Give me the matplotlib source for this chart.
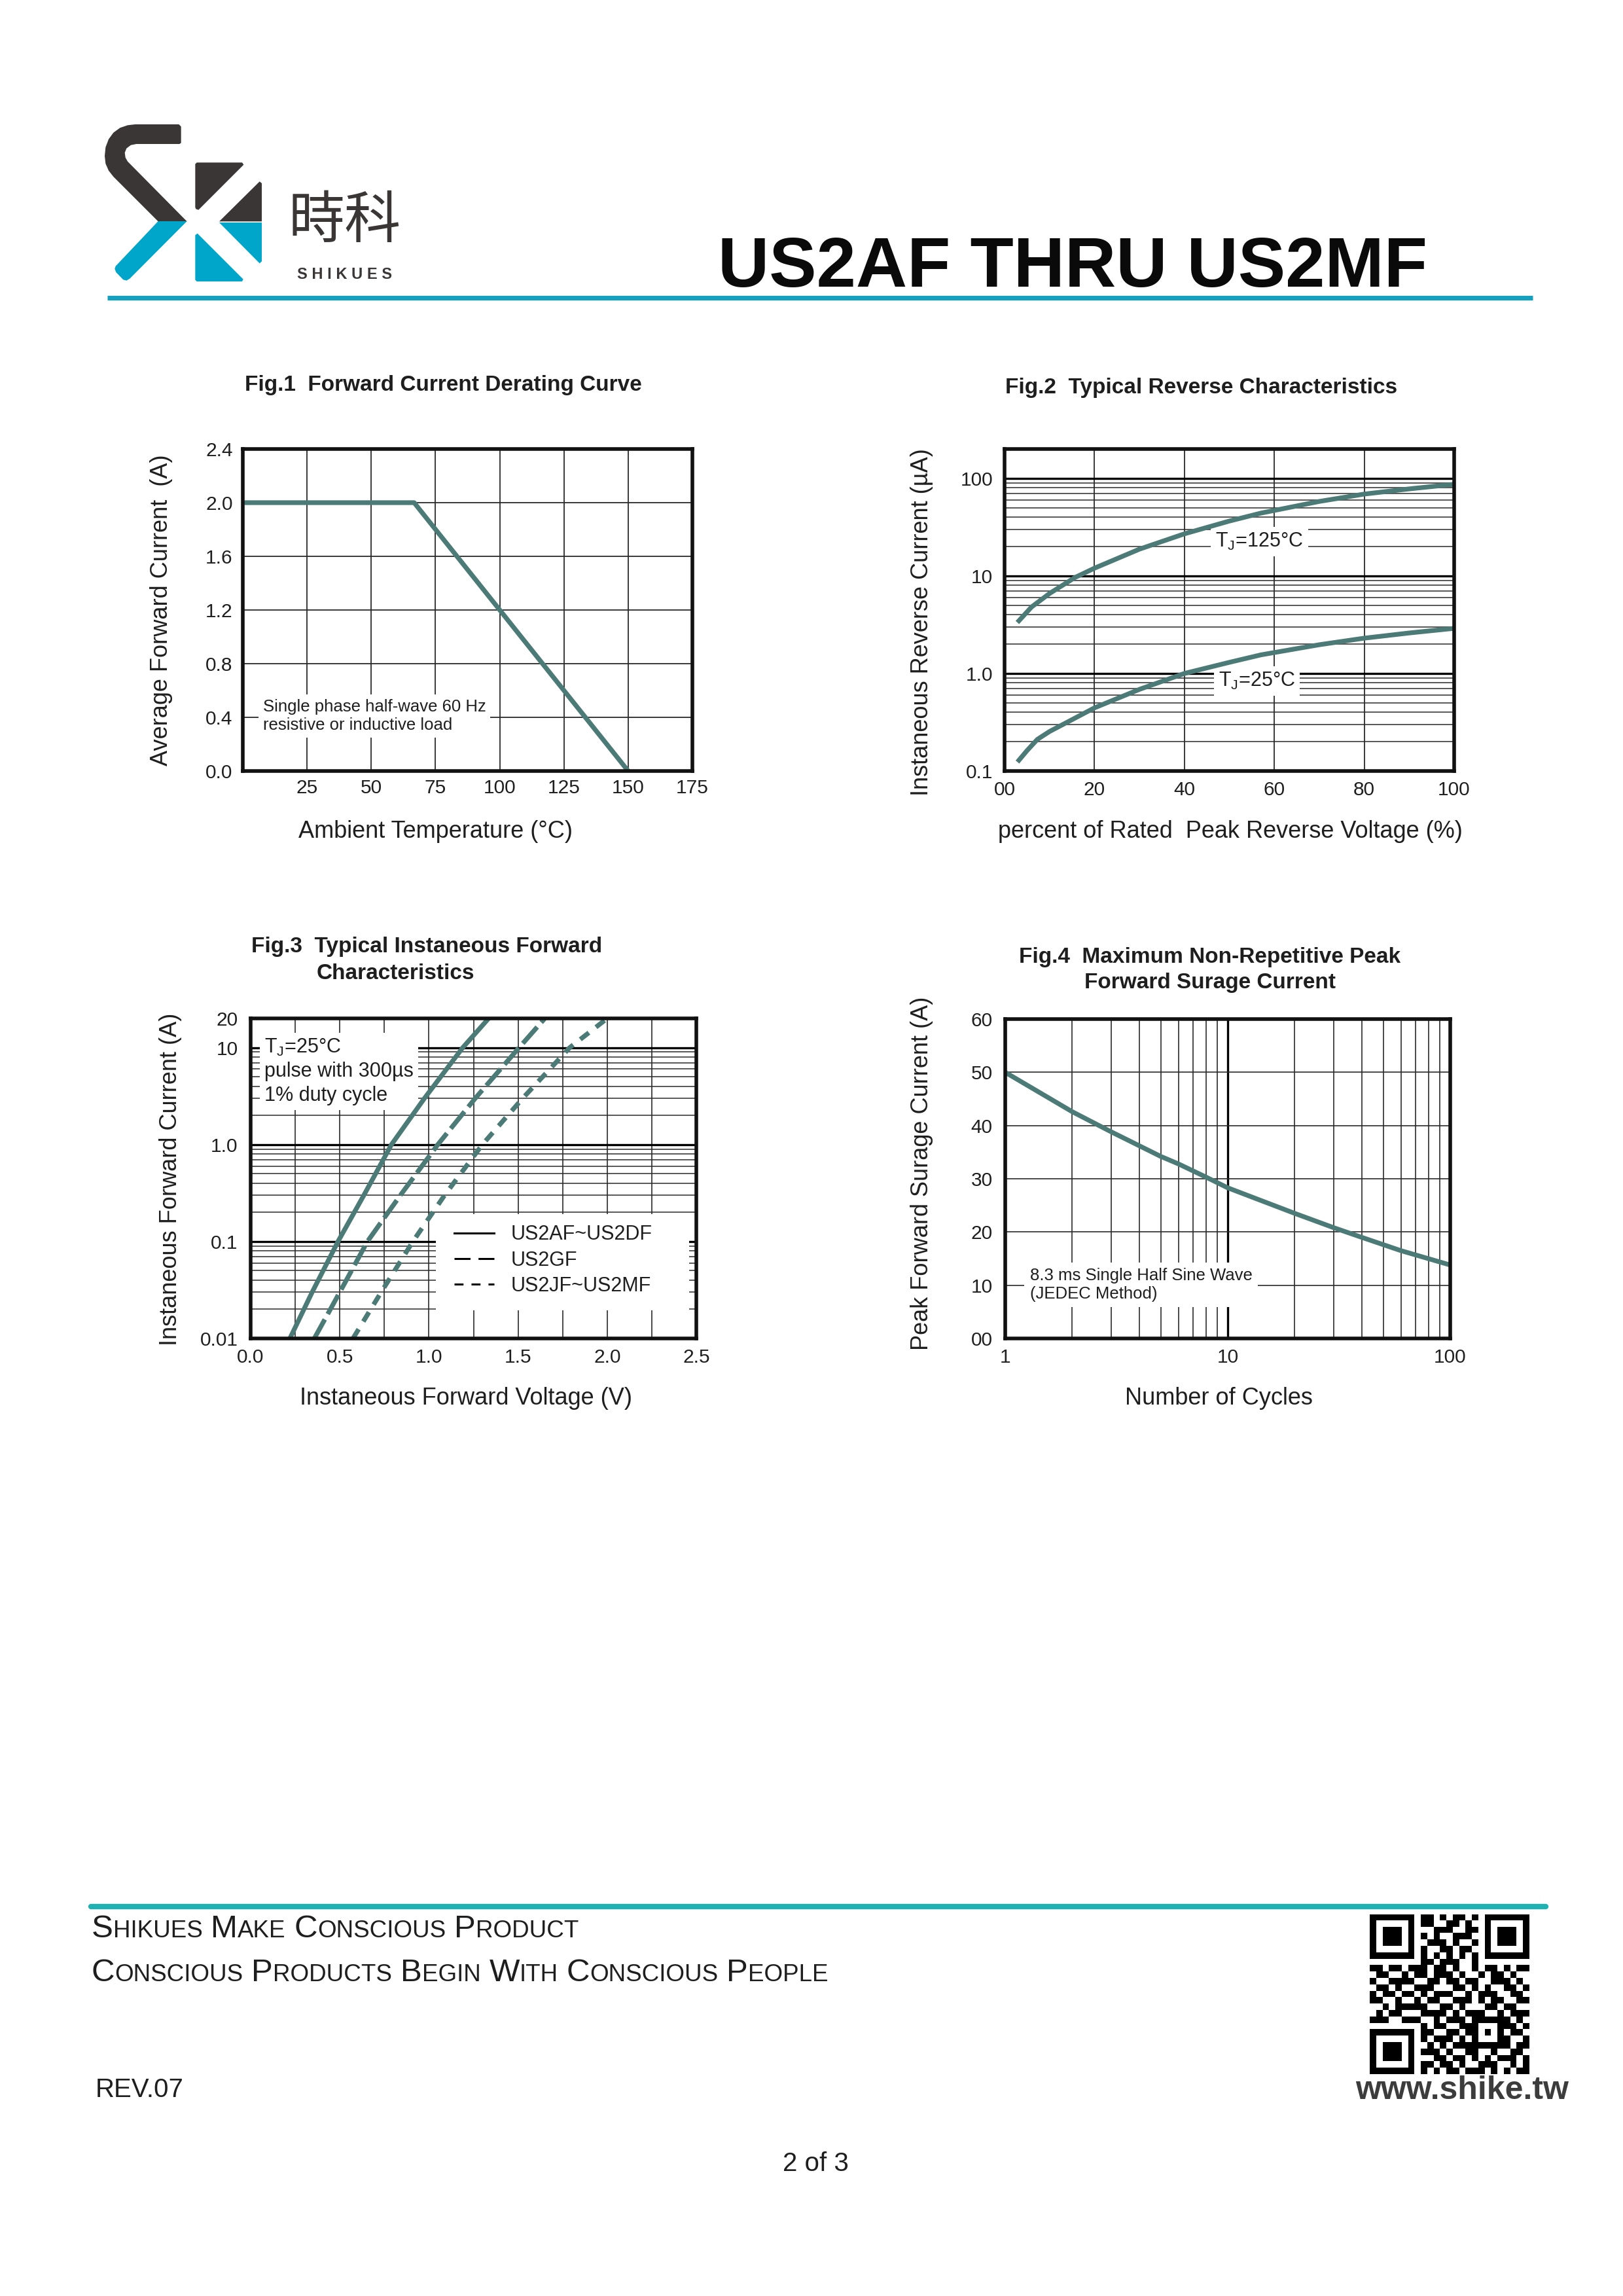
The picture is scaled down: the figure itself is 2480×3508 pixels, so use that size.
import numpy as np
import matplotlib
matplotlib.use('Agg')
import matplotlib.pyplot as plt
from matplotlib.lines import Line2D
from matplotlib.patches import Polygon, Rectangle
from matplotlib.ticker import NullFormatter

W, H = 2480, 3508
plt.rcParams['font.family'] = ['Liberation Sans', 'DejaVu Sans']
NARROW = ['Liberation Sans Narrow', 'Liberation Sans', 'DejaVu Sans']
CJK = ['Noto Sans CJK TC', 'DejaVu Sans']

INK = '#1e1e1e'
CURVE = '#4c7b77'
GRID = '#2a2a2a'
LOGO_DARK = '#3a3636'
LOGO_CYAN = '#00a6c9'

# ---- Fig.1 forward current derating ----
fig1_temp = [1.5, 66.7, 150]
fig1_current = [2.0, 2.0, 0.0]
fig1_xticks = [25, 50, 75, 100, 125, 150, 175]
fig1_yticks = [0.0, 0.4, 0.8, 1.2, 1.6, 2.0, 2.4]

# ---- Fig.2 reverse characteristics ----
fig2_v125 = [3.2, 6, 10, 15.6, 20, 30, 40, 50, 57, 70, 80, 90, 100]
fig2_i125 = [3.47, 4.8, 6.6, 9.6, 12.0, 18.8, 27.0, 36.5, 44, 58, 69, 78, 87]
fig2_v25 = [3.2, 5, 7.3, 10, 20, 30, 40, 50, 57, 70, 80, 90, 100]
fig2_i25 = [0.129, 0.162, 0.211, 0.254, 0.444, 0.687, 1.0, 1.3, 1.55, 1.97, 2.3, 2.6, 2.9]
fig2_xticks = [0, 20, 40, 60, 80, 100]
fig2_xlabels = ['00', '20', '40', '60', '80', '100']
fig2_yticks = [0.1, 1, 10, 100]
fig2_ylabels = ['0.1', '1.0', '10', '100']

# ---- Fig.3 forward characteristics ----
fig3_i = [0.01, 0.03, 0.1, 0.3, 1.0, 3.0, 10, 20]
fig3_v_ad = [0.22, 0.345, 0.49, 0.635, 0.79, 0.975, 1.19, 1.335]
fig3_v_g = [0.357, 0.50, 0.655, 0.84, 1.05, 1.26, 1.506, 1.65]
fig3_v_jm = [0.574, 0.732, 0.91, 1.088, 1.30, 1.526, 1.79, 2.0]
fig3_series = ['US2AF~US2DF', 'US2GF', 'US2JF~US2MF']
fig3_xticks = [0.0, 0.5, 1.0, 1.5, 2.0, 2.5]
fig3_yticks = [0.01, 0.1, 1.0, 10, 20]
fig3_ylabels = ['0.01', '0.1', '1.0', '10', '20']

# ---- Fig.4 surge current ----
fig4_cycles = [1, 2, 3, 5, 6, 8, 10, 20, 30, 40, 60, 100]
fig4_current = [50, 42.6, 38.8, 34.2, 32.8, 30.3, 28.3, 23.5, 20.8, 19.0, 16.5, 13.8]
fig4_yticks = [0, 10, 20, 30, 40, 50, 60]
fig4_ylabels = ['00', '10', '20', '30', '40', '50', '60']

# ---- QR code bits (function patterns are laid on top in code) ----
qr_rows = [
    "1111111011010110101111111",
    "1000001011001101001000001",
    "1011101000111001101011101",
    "1011101010100111001011101",
    "1011101001110100101011101",
    "1000001010011011001000001",
    "1111111010101010101111111",
    "0000000011011100100000000",
    "1101101110110100101101011",
    "0110010110111010010110100",
    "1001111001101101100111010",
    "0110100111000110101001101",
    "1011011010111001011100110",
    "1100100101100111010110011",
    "0010111110011010001101100",
    "0101100011110101110010111",
    "1110011100101110011111010",
    "0000000010110011100011101",
    "1111111011001101101010110",
    "1000001010111010011101001",
    "1011101001010111011111011",
    "1011101011101001100100110",
    "1011101000110110101011101",
    "1000001011011010011100101",
    "1111111010101101110101011",
]

TITLE_FS = 24
LABEL_FS = 26
TICK_FS = 21.5


def px_box(l, t, r, b):
    return [l / W, 1 - b / H, (r - l) / W, (b - t) / H]


def fx(x):
    return x / W


def fy(y):
    return 1 - y / H


def style_axes(ax, xpad, ypad):
    for s in ax.spines.values():
        s.set_linewidth(4)
        s.set_color('#111111')
        s.set_zorder(4)
    ax.tick_params(which='both', length=0, labelsize=TICK_FS, colors=INK)
    ax.tick_params(axis='x', pad=xpad)
    ax.tick_params(axis='y', pad=ypad)
    ax.set_axisbelow(True)


def minor_decades(decades):
    return [m * d for d in decades for m in range(2, 10)]


fig = plt.figure(figsize=(W / 100, H / 100), dpi=100)
fig.patch.set_facecolor('white')

# ── Fig.1 ──
ax1 = fig.add_axes(px_box(371, 686, 1058, 1178))
style_axes(ax1, 9, 11)
ax1.plot(fig1_temp, fig1_current, color=CURVE, lw=5.2, zorder=3)
ax1.set_xlim(0, 175)
ax1.set_ylim(0, 2.4)
ax1.set_xticks(fig1_xticks)
ax1.set_yticks(fig1_yticks, labels=[f'{v:.1f}' for v in fig1_yticks])
ax1.grid(True, color=GRID, lw=1.3)
ax1.text(7.8, 0.41, 'Single phase half-wave 60 Hz\nresistive or inductive load',
         fontsize=18.5, va='center', ha='left', linespacing=1.21, color=INK,
         bbox=dict(fc='white', ec='none', pad=5), zorder=2)
fig.text(fx(374), fy(588), 'Fig.1  Forward Current Derating Curve', fontsize=TITLE_FS,
         fontweight='bold', va='center', color=INK)
fig.text(fx(246), fy(932), 'Average Forward Current  (A)', rotation=90,
         ha='center', va='center', fontsize=LABEL_FS, color=INK)
fig.text(fx(666), fy(1270), 'Ambient Temperature (°C)', ha='center', va='center',
         fontsize=LABEL_FS, color=INK)

# ── Fig.2 ──
ax2 = fig.add_axes(px_box(1535, 686, 2222, 1178))
style_axes(ax2, 11, 13)
ax2.set_yscale('log')
ax2.plot(fig2_v125, fig2_i125, color=CURVE, lw=5.2, zorder=3)
ax2.plot(fig2_v25, fig2_i25, color=CURVE, lw=5.2, zorder=3)
ax2.set_xlim(0, 100)
ax2.set_ylim(0.1, 200)
ax2.set_xticks(fig2_xticks, labels=fig2_xlabels)
ax2.set_yticks(fig2_yticks, labels=fig2_ylabels)
ax2.set_yticks(minor_decades([0.1, 1, 10]), minor=True)
ax2.yaxis.set_minor_formatter(NullFormatter())
ax2.grid(True, which='major', axis='x', color=GRID, lw=1.3)
ax2.grid(True, which='major', axis='y', color='#000000', lw=2.4)
ax2.grid(True, which='minor', axis='y', color=GRID, lw=1.1)
ax2.text(56.7, 22.5, r'T$_{\mathregular{J}}$=125°C', ha='center', va='center', fontsize=22,
         color=INK, bbox=dict(fc='white', ec='none', pad=5), zorder=2)
ax2.text(56.1, 0.84, r'T$_{\mathregular{J}}$=25°C', ha='center', va='center', fontsize=22,
         color=INK, bbox=dict(fc='white', ec='none', pad=5), zorder=2)
fig.text(fx(1536), fy(593), 'Fig.2  Typical Reverse Characteristics', fontsize=TITLE_FS,
         fontweight='bold', va='center', color=INK)
fig.text(fx(1409), fy(951), 'Instaneous Reverse Current (µA)', rotation=90,
         ha='center', va='center', fontsize=LABEL_FS, color=INK)
fig.text(fx(1880), fy(1270), 'percent of Rated  Peak Reverse Voltage (%)', ha='center',
         va='center', fontsize=LABEL_FS, color=INK)

# ── Fig.3 ──
ax3 = fig.add_axes(px_box(383, 1556, 1064, 2045))
style_axes(ax3, 11, 14)
ax3.set_yscale('log')
ax3.plot(fig3_v_ad, fig3_i, color=CURVE, lw=5.2, zorder=3)
ax3.plot(fig3_v_g, fig3_i, color=CURVE, lw=5.2, dashes=(4.6, 1.3), zorder=3)
ax3.plot(fig3_v_jm, fig3_i, color=CURVE, lw=5.2, dashes=(2.3, 1.9), zorder=3)
ax3.set_xlim(0, 2.5)
ax3.set_ylim(0.01, 20)
ax3.set_xticks(fig3_xticks, labels=[f'{v:.1f}' for v in fig3_xticks])
ax3.set_xticks([0.25, 0.75, 1.25, 1.75, 2.25], minor=True)
ax3.set_yticks(fig3_yticks, labels=fig3_ylabels)
ax3.set_yticks(minor_decades([0.01, 0.1, 1]), minor=True)
ax3.yaxis.set_minor_formatter(NullFormatter())
ax3.xaxis.set_minor_formatter(NullFormatter())
ax3.grid(True, which='both', axis='x', color=GRID, lw=1.2)
ax3.grid(True, which='major', axis='y', color='#000000', lw=2.4)
ax3.grid(True, which='minor', axis='y', color=GRID, lw=1.1)
ax3.add_patch(Rectangle((0.416, 0.088), 0.568, 0.30, transform=ax3.transAxes,
                        fc='white', ec='none', zorder=1.5))
ax3.text(0.077, 5.7, 'T$_{\\mathregular{J}}$=25°C\npulse with 300µs\n1% duty cycle',
         fontsize=22, linespacing=1.27, va='center', ha='left', color=INK,
         bbox=dict(fc='white', ec='none', pad=5), zorder=2)
handles = [
    Line2D([], [], color='black', lw=2.2, ls='-', label=fig3_series[0]),
    Line2D([], [], color='black', lw=2.2, dashes=(8, 4), label=fig3_series[1]),
    Line2D([], [], color='black', lw=2.2, dashes=(4.5, 4), label=fig3_series[2]),
]
ax3.legend(handles=handles, loc='upper left', bbox_to_anchor=(0.456, 0.355), frameon=False,
           fontsize=22, handlelength=2.0, handletextpad=0.85, labelspacing=0.3,
           borderpad=0, borderaxespad=0, labelcolor=INK)
fig.text(fx(384), fy(1447), 'Fig.3  Typical Instaneous Forward', fontsize=TITLE_FS,
         fontweight='bold', va='center', color=INK)
fig.text(fx(484), fy(1488), 'Characteristics', fontsize=TITLE_FS, fontweight='bold',
         va='center', color=INK)
fig.text(fx(260), fy(1802), 'Instaneous Forward Current (A)', rotation=90,
         ha='center', va='center', fontsize=LABEL_FS, color=INK)
fig.text(fx(712), fy(2136), 'Instaneous Forward Voltage (V)', ha='center', va='center',
         fontsize=LABEL_FS, color=INK)

# ── Fig.4 ──
ax4 = fig.add_axes(px_box(1536, 1557, 2216, 2045))
style_axes(ax4, 11, 14)
ax4.set_xscale('log')
ax4.plot(fig4_cycles, fig4_current, color=CURVE, lw=5.2, zorder=3)
ax4.set_xlim(1, 100)
ax4.set_ylim(0, 60)
ax4.set_xticks([1, 10, 100], labels=['1', '10', '100'])
ax4.set_xticks(minor_decades([1, 10]), minor=True)
ax4.xaxis.set_minor_formatter(NullFormatter())
ax4.set_yticks(fig4_yticks, labels=fig4_ylabels)
ax4.grid(True, which='major', axis='x', color='#000000', lw=2.4)
ax4.grid(True, which='minor', axis='x', color=GRID, lw=1.2)
ax4.grid(True, which='major', axis='y', color=GRID, lw=1.2)
ax4.text(1.29, 10.1, '8.3 ms Single Half Sine Wave\n(JEDEC Method)', fontsize=18.5,
         va='center', ha='left', linespacing=1.21, color=INK,
         bbox=dict(fc='white', ec='none', pad=6), zorder=2)
fig.text(fx(1849), fy(1482), 'Fig.4  Maximum Non-Repetitive Peak\nForward Surage Current',
         fontsize=TITLE_FS, fontweight='bold', ha='center', va='center',
         multialignment='center', linespacing=1.3, color=INK)
fig.text(fx(1409), fy(1793), 'Peak Forward Surage Current (A)', rotation=90,
         ha='center', va='center', fontsize=LABEL_FS, color=INK)
fig.text(fx(1862), fy(2136), 'Number of Cycles', ha='center', va='center',
         fontsize=LABEL_FS, color=INK)

# ── header: logo, brand, part title, rule ──
axl = fig.add_axes(px_box(140, 170, 640, 450))
axl.set_xlim(0, 1500)
axl.set_ylim(840, 0)
axl.axis('off')
logo_shapes = [
    (LOGO_DARK, [(400, 60), (410, 70), (410, 145), (403, 150), (205, 150), (180, 155),
                 (160, 170), (152, 190), (155, 212), (165, 230), (437, 505), (305, 505),
                 (100, 300), (78, 272), (64, 240), (60, 205), (64, 165), (78, 128),
                 (100, 98), (130, 76), (165, 64), (200, 60)]),
    (LOGO_CYAN, [(305, 504), (437, 504), (175, 767), (160, 776), (145, 772), (112, 738),
                 (106, 722), (110, 710)]),
    (LOGO_DARK, [(482, 235), (690, 235), (697, 245), (490, 452), (478, 448), (475, 440),
                 (475, 242)]),
    (LOGO_DARK, [(770, 322), (780, 330), (780, 505), (585, 505)]),
    (LOGO_CYAN, [(585, 510), (780, 510), (780, 688), (770, 697)]),
    (LOGO_CYAN, [(475, 568), (485, 560), (695, 770), (690, 780), (482, 780), (475, 773)]),
]
for col, pts in logo_shapes:
    axl.add_patch(Polygon(pts, closed=True, fc=col, ec='none'))
fig.text(fx(527), fy(339), '時科', fontsize=62, family=CJK, ha='center', va='center',
         color=LOGO_DARK)
fig.text(fx(527), fy(420), 'S H I K U E S', fontsize=17, fontweight='bold', ha='center',
         va='center', color=LOGO_DARK)
fig.text(fx(1097), fy(438), 'US2AF THRU US2MF', fontsize=78, fontweight='bold',
         va='baseline', ha='left', color='#0a0a0a')
fig.add_artist(Line2D([fx(164), fx(2342)], [fy(455), fy(455)], transform=fig.transFigure,
                      color='#16a0bf', lw=5.2, solid_capstyle='butt'))

# ── footer ──
fig.add_artist(Line2D([fx(139), fx(2362)], [fy(2913), fy(2913)], transform=fig.transFigure,
                      color='#1fb2b2', lw=6, solid_capstyle='round'))


def small_caps(x_px, base_px, text, big, small):
    r = fig.canvas.get_renderer()
    x = x_px
    for word in text.split():
        for part, size in ((word[0], big), (word[1:].upper(), small)):
            if not part:
                continue
            t = fig.text(x / W, fy(base_px), part, fontsize=size, family=NARROW,
                         color=INK, va='baseline', ha='left')
            x += t.get_window_extent(r).width
        x += big * 0.26 * 100 / 72


small_caps(140, 2960, 'Shikues Make Conscious Product', 35.5, 26.5)
small_caps(140, 3027, 'Conscious Products Begin With Conscious People', 35.5, 26.5)
fig.text(fx(146), fy(3204), 'REV.07', fontsize=29, family=NARROW, va='baseline', color=INK)
fig.text(fx(2234), fy(3207), 'www.shike.tw', fontsize=36, fontweight='bold', ha='center',
         va='baseline', color='#3c3c3c')
fig.text(fx(1246), fy(3306), '2 of 3', fontsize=29, family=NARROW, ha='center',
         va='center', color=INK)

# QR code
M = np.array([[int(c) for c in row.ljust(25, '0')[:25]] for row in qr_rows])


def finder(r0, c0):
    M[r0:r0 + 7, c0:c0 + 7] = 1
    M[r0 + 1:r0 + 6, c0 + 1:c0 + 6] = 0
    M[r0 + 2:r0 + 5, c0 + 2:c0 + 5] = 1


finder(0, 0)
finder(0, 18)
finder(18, 0)
M[7, 0:8] = 0
M[0:8, 7] = 0
M[7, 17:25] = 0
M[0:8, 17] = 0
M[17, 0:8] = 0
M[17:25, 7] = 0
M[6, 8:17] = [1, 0, 1, 0, 1, 0, 1, 0, 1]
M[8:17, 6] = [1, 0, 1, 0, 1, 0, 1, 0, 1]
M[16:21, 16:21] = 1
M[17:20, 17:20] = 0
M[18, 18] = 1
M[17, 8] = 1
axq = fig.add_axes(px_box(2093, 2925, 2337, 3169))
axq.imshow(M, cmap='gray_r', interpolation='nearest', vmin=0, vmax=1)
axq.axis('off')

fig.savefig('out.png', dpi=100, facecolor='white')
